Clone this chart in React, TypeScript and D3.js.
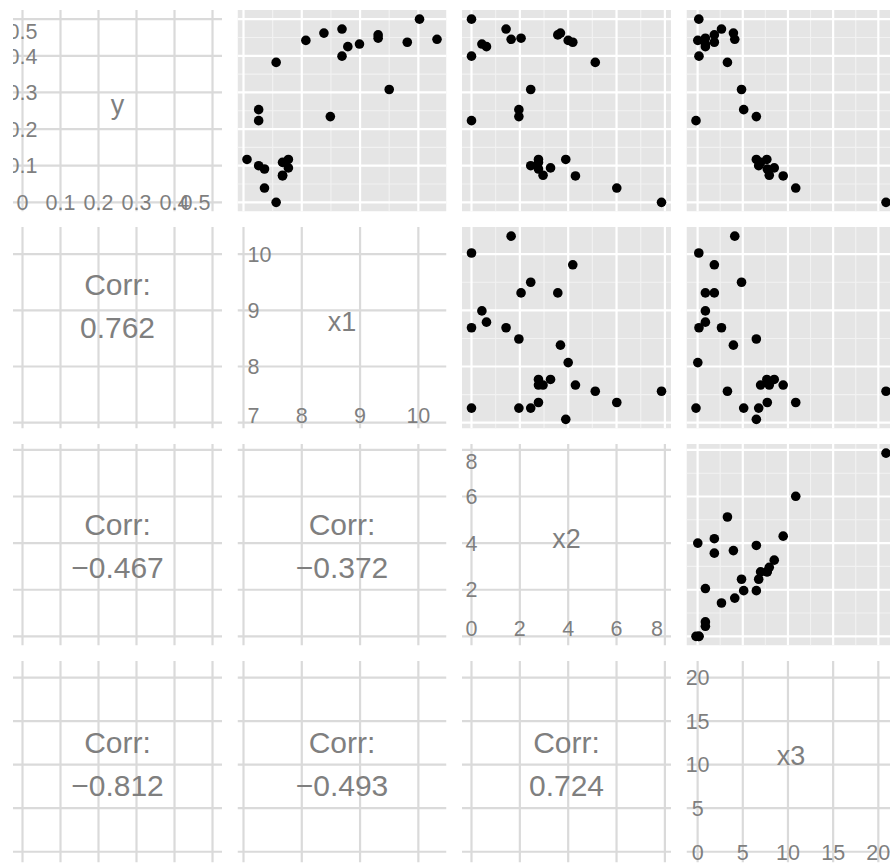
import React from "react";
import * as d3 from "d3";

// variables in matrix order
const varNames = ["y", "x1", "x2", "x3"];

const yValues = [0.445, 0.5, 0.437, 0.308, 0.448, 0.457, 0.432, 0.425, 0.399, 0.473, 0.234, 0.462, 0.442, 0.117, 0.094, 0.109, 0.074, 0.072, 0.382, 0.0, 0.223, 0.253, 0.1, 0.091, 0.039, 0.117];
const x1Values = [10.32, 10.02, 9.81, 9.5, 9.31, 9.31, 8.99, 8.79, 8.69, 8.69, 8.49, 8.38, 8.07, 7.77, 7.77, 7.67, 7.67, 7.67, 7.56, 7.56, 7.26, 7.26, 7.26, 7.36, 7.36, 7.06];
const x2Values = [1.64, 0, 4.19, 2.45, 2.05, 3.57, 0.43, 0.62, 0, 1.43, 1.96, 3.68, 4.0, 2.77, 3.27, 2.77, 2.96, 4.3, 5.12, 7.86, 0, 1.96, 2.45, 2.77, 6.01, 3.9];
const x3Values = [4.11, 0.13, 1.85, 4.86, 0.86, 1.85, 0.86, 0.86, 0.15, 2.64, 6.5, 3.96, 0.02, 7.66, 8.48, 6.97, 7.93, 9.47, 3.3, 20.85, -0.18, 5.1, 6.76, 7.71, 10.86, 6.5];

// axis breaks and their labels
const yBreaks = [0, 0.1, 0.2, 0.3, 0.4, 0.5];
const x1Breaks = [7, 8, 9, 10];
const x2Breaks = [0, 2, 4, 6, 8];
const x3Breaks = [0, 5, 10, 15, 20];
const yTickLabels = ["0", "0.1", "0.2", "0.3", "0.4", "0.5"];
const x1TickLabels = ["7", "8", "9", "10"];
const x2TickLabels = ["0", "2", "4", "6", "8"];
const x3TickLabels = ["0", "5", "10", "15", "20"];

// lower triangle: correlations
const corrCells = [[1, 0], [2, 0], [2, 1], [3, 0], [3, 1], [3, 2]];
const corrValues = ["0.762", "\u22120.467", "\u22120.372", "\u22120.812", "\u22120.493", "0.724"];

const values = [yValues, x1Values, x2Values, x3Values];
const breaks = [yBreaks, x1Breaks, x2Breaks, x3Breaks];
const tickLabels = [yTickLabels, x1TickLabels, x2TickLabels, x3TickLabels];

// label justification of the internal axis labels on the diagonal
const diagAlign = [
  { firstH: 0.5, lastH: 1, xLabV: 0.5, yLabH: 0.5, topV: 1 },
  { firstH: 0, lastH: 0.5, xLabV: 0, yLabH: 0, topV: 0.5 },
  { firstH: 0.5, lastH: 1, xLabV: 0, yLabH: 0.5, topV: 1 },
  { firstH: 0.5, lastH: 0.5, xLabV: 0.5, yLabH: 0.5, topV: 0.5 },
];
// vertical centre of the "Corr:" block, fraction of panel height from bottom
const corrCenter = [0.5, 0.61, 0.495, 0.491];

const W = 890;
const H = 863;
const TEXT = "#7F7F7F";
const FONT = "'Liberation Sans', Arial, Helvetica, sans-serif";

const expand = (v: number[]) => {
  const [a, b] = d3.extent(v) as [number, number];
  const r = b - a;
  return [a - 0.05 * r, b + 0.05 * r];
};

const anchor = (h: number) => (h === 0 ? "start" : h === 1 ? "end" : "middle");
const nudge = (h: number) => (h === 0 ? 4 : h === 1 ? -2 : 0);
const baseline = (y: number, v: number, fs: number) =>
  v === 1 ? y + 0.9 * fs : v === 0 ? y : y + 0.36 * fs;

const minorBreaks = (b: number[], dom: number[]) => {
  const step = b[1] - b[0];
  const out: number[] = [];
  for (let i = -1; i < b.length; i++) {
    const m = b[0] + step * (i + 0.5);
    if (m > dom[0] && m < dom[1]) out.push(m);
  }
  return out;
};

export default function App() {
  const colBand = d3.scaleBand().domain(varNames).range([13, 895.5]).paddingInner(0.069);
  const rowBand = d3.scaleBand().domain(varNames).range([10, 862.5]).paddingInner(0.0714);
  const pw = colBand.bandwidth();
  const ph = rowBand.bandwidth();

  const domains = values.map(expand);
  const xs = varNames.map((v, i) =>
    d3.scaleLinear().domain(domains[i]).range([colBand(v)!, colBand(v)! + pw])
  );
  const ys = varNames.map((v, i) =>
    d3.scaleLinear().domain(domains[i]).range([rowBand(v)! + ph, rowBand(v)!])
  );

  const panels: React.ReactNode[] = [];

  varNames.forEach((rv, r) => {
    varNames.forEach((cv, c) => {
      const x0 = colBand(cv)!;
      const y0 = rowBand(rv)!;
      const xsc = xs[c];
      const ysc = ys[r];
      const id = `clip-${r}-${c}`;
      const inner: React.ReactNode[] = [];

      if (c > r) {
        // scatter panel
        inner.push(<rect key="bg" x={x0} y={y0} width={pw} height={ph} fill="#E5E5E5" />);
        minorBreaks(breaks[c], domains[c]).forEach((b) =>
          inner.push(<line key={`mx${b}`} x1={xsc(b)} x2={xsc(b)} y1={y0} y2={y0 + ph} stroke="#F2F2F2" strokeWidth={1.1} />)
        );
        minorBreaks(breaks[r], domains[r]).forEach((b) =>
          inner.push(<line key={`my${b}`} y1={ysc(b)} y2={ysc(b)} x1={x0} x2={x0 + pw} stroke="#F2F2F2" strokeWidth={1.1} />)
        );
        breaks[c].forEach((b) =>
          inner.push(<line key={`gx${b}`} x1={xsc(b)} x2={xsc(b)} y1={y0} y2={y0 + ph} stroke="#FFFFFF" strokeWidth={2.2} />)
        );
        breaks[r].forEach((b) =>
          inner.push(<line key={`gy${b}`} y1={ysc(b)} y2={ysc(b)} x1={x0} x2={x0 + pw} stroke="#FFFFFF" strokeWidth={2.2} />)
        );
        values[c].forEach((v, k) =>
          inner.push(<circle key={`p${k}`} cx={xsc(v)} cy={ysc(values[r][k])} r={4.8} fill="#000" />)
        );
      } else {
        // white panel with grey grid (diagonal and correlation)
        breaks[c].forEach((b) =>
          inner.push(<line key={`gx${b}`} x1={xsc(b)} x2={xsc(b)} y1={y0} y2={y0 + ph} stroke="#DADADA" strokeWidth={2.2} />)
        );
        breaks[r].forEach((b) =>
          inner.push(<line key={`gy${b}`} y1={ysc(b)} y2={ysc(b)} x1={x0} x2={x0 + pw} stroke="#DADADA" strokeWidth={2.2} />)
        );
      }

      if (c === r) {
        const b = breaks[r];
        const labs = tickLabels[r];
        const al = diagAlign[r];
        const fs = 21.5;
        b.forEach((v, k) => {
          const h = k === 0 ? al.firstH : k === b.length - 1 ? al.lastH : 0.5;
          inner.push(
            <text key={`xl${k}`} x={xsc(v) + nudge(h)} y={baseline(ysc(b[0]), al.xLabV, fs)} textAnchor={anchor(h)} fontSize={fs} fill={TEXT}>
              {labs[k]}
            </text>
          );
          if (k > 0) {
            const vj = k === b.length - 1 ? al.topV : 0.5;
            inner.push(
              <text key={`yl${k}`} x={xsc(b[0]) + nudge(al.yLabH)} y={baseline(ysc(v), vj, fs)} textAnchor={anchor(al.yLabH)} fontSize={fs} fill={TEXT}>
                {labs[k]}
              </text>
            );
          }
        });
        inner.push(
          <text key="name" x={x0 + pw / 2} y={y0 + ph - 0.53 * ph + 0.36 * 27} textAnchor="middle" fontSize={27} fill={TEXT}>
            {rv}
          </text>
        );
      }

      panels.push(
        <g key={id} clipPath={`url(#${id})`}>
          {inner}
        </g>
      );
    });
  });

  // correlation text in the lower triangle
  const corrTexts = corrCells.map(([r, c], k) => {
    const x0 = colBand(varNames[c])!;
    const y0 = rowBand(varNames[r])!;
    const cy = y0 + ph - corrCenter[r] * ph;
    const fs = 30;
    return (
      <g key={`corr${k}`} fontSize={fs} fill={TEXT} textAnchor="middle">
        <text x={x0 + pw / 2} y={cy - 21.75 + 0.36 * fs}>Corr:</text>
        <text x={x0 + pw / 2} y={cy + 21.75 + 0.36 * fs}>{corrValues[k]}</text>
      </g>
    );
  });

  return (
    <svg
      width={W}
      height={H}
      style={{ position: "absolute", left: 0, top: 0, background: "#fff" }}
      fontFamily={FONT}
    >
      <defs>
        {varNames.map((rv, r) =>
          varNames.map((cv, c) => (
            <clipPath key={`${r}-${c}`} id={`clip-${r}-${c}`}>
              <rect x={colBand(cv)} y={rowBand(rv)} width={pw} height={ph} />
            </clipPath>
          ))
        )}
      </defs>
      <rect width={W} height={H} fill="#fff" />
      {panels}
      {corrTexts}
    </svg>
  );
}
